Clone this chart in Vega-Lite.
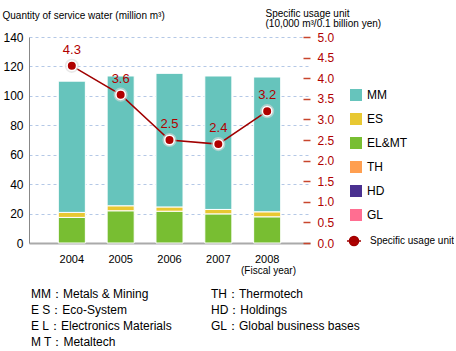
{
  "$schema": "https://vega.github.io/schema/vega-lite/v6.json",
  "padding": {"left": 2, "top": 8, "right": 0, "bottom": 0},
  "config": {
    "font": "Liberation Sans",
    "view": {"stroke": null},
    "concat": {"spacing": 51}
  },
  "bounds": "flush",
  "datasets": {
    "water": [
      {"year": "2004", "segment": "EL&MT", "seq": 1, "value": 17.4},
      {"year": "2004", "segment": "ES", "seq": 2, "value": 3.4},
      {"year": "2004", "segment": "MM", "seq": 3, "value": 89.2},
      {"year": "2005", "segment": "EL&MT", "seq": 1, "value": 21.9},
      {"year": "2005", "segment": "ES", "seq": 2, "value": 3.4},
      {"year": "2005", "segment": "MM", "seq": 3, "value": 88.2},
      {"year": "2006", "segment": "EL&MT", "seq": 1, "value": 21.6},
      {"year": "2006", "segment": "ES", "seq": 2, "value": 2.9},
      {"year": "2006", "segment": "MM", "seq": 3, "value": 90.8},
      {"year": "2007", "segment": "EL&MT", "seq": 1, "value": 19.8},
      {"year": "2007", "segment": "ES", "seq": 2, "value": 3.0},
      {"year": "2007", "segment": "MM", "seq": 3, "value": 90.7},
      {"year": "2008", "segment": "EL&MT", "seq": 1, "value": 17.8},
      {"year": "2008", "segment": "ES", "seq": 2, "value": 3.4},
      {"year": "2008", "segment": "MM", "seq": 3, "value": 91.6}
    ],
    "unit": [
      {"year": "2004", "unit": 4.3, "series": "Specific usage unit"},
      {"year": "2005", "unit": 3.6, "series": "Specific usage unit"},
      {"year": "2006", "unit": 2.5, "series": "Specific usage unit"},
      {"year": "2007", "unit": 2.4, "series": "Specific usage unit"},
      {"year": "2008", "unit": 3.2, "series": "Specific usage unit"}
    ],
    "notes": [
      {"note": "MM：Metals & Mining", "col": 0, "line": 0},
      {"note": "E S：Eco-System", "col": 0, "line": 1},
      {"note": "E L：Electronics Materials", "col": 0, "line": 2},
      {"note": "M T：Metaltech", "col": 0, "line": 3},
      {"note": "TH：Thermotech", "col": 1, "line": 0},
      {"note": "HD：Holdings", "col": 1, "line": 1},
      {"note": "GL：Global business bases", "col": 1, "line": 2}
    ]
  },
  "vconcat": [
    {
      "width": 281,
      "height": 206,
      "layer": [
        {
          "data": {"name": "water"},
          "mark": {"type": "bar", "stroke": "white", "strokeWidth": 1},
          "encoding": {
            "x": {
              "field": "year", "type": "ordinal",
              "scale": {"paddingInner": 0.446, "paddingOuter": 0.6},
              "axis": {
                "title": "(Fiscal year)", "titleFontSize": 10, "titleFontWeight": "normal",
                "titleX": 239, "titleY": 27, "titleBaseline": "middle", "titleAlign": "center",
                "labelAngle": 0, "labelFontSize": 11, "labelColor": "#000", "labelPadding": 10,
                "ticks": false, "domainColor": "#aaaaaa", "domainWidth": 2
              }
            },
            "y": {
              "field": "value", "type": "quantitative", "aggregate": "sum",
              "scale": {"domain": [0, 140], "nice": false},
              "axis": {
                "title": "Quantity of service water (million m³)",
                "titleAngle": 0, "titleAlign": "left", "titleBaseline": "alphabetic",
                "titleX": -27, "titleY": -19, "titleFontSize": 10, "titleFontWeight": "normal",
                "values": [0, 20, 40, 60, 80, 100, 120, 140],
                "labelFontSize": 12, "labelColor": "#000", "labelPadding": 6,
                "ticks": false, "domainColor": "#888888",
                "grid": true, "gridColor": "#b4c8e6", "gridDash": [3, 3]
              }
            },
            "color": {
              "field": "segment", "type": "nominal",
              "scale": {
                "domain": ["MM", "ES", "EL&MT", "TH", "HD", "GL"],
                "range": ["#66c4bc", "#e8c832", "#78be32", "#ff9f50", "#4a3090", "#ff6e91"]
              },
              "legend": {
                "title": null, "orient": "none", "legendX": 321, "legendY": 52,
                "symbolType": "square", "symbolSize": 144, "symbolStrokeWidth": 0,
                "labelFontSize": 12, "labelColor": "#000", "rowPadding": 12, "labelOffset": 5
              }
            },
            "order": {"field": "seq", "type": "quantitative"}
          }
        },
        {
          "data": {"name": "unit"},
          "encoding": {
            "x": {"field": "year", "type": "ordinal"},
            "y": {
              "field": "unit", "type": "quantitative",
              "scale": {"domain": [0, 5], "nice": false},
              "axis": {
                "orient": "right",
                "title": ["Specific usage unit", " (10,000 m³/0.1 billion yen)"],
                "titleAngle": 0, "titleAlign": "left", "titleBaseline": "alphabetic",
                "titleX": -45, "titleY": -21, "titleFontSize": 10, "titleFontWeight": "normal",
                "titleLineHeight": 10,
                "values": [0, 0.5, 1, 1.5, 2, 2.5, 3, 3.5, 4, 4.5, 5], "format": ".1f",
                "labelFontSize": 12, "labelColor": "#b00000", "labelPadding": 14,
                "tickSize": -7, "tickColor": "#c8462d", "tickWidth": 1.5,
                "domain": false, "grid": false
              }
            }
          },
          "layer": [
            {
              "mark": {"type": "line", "strokeWidth": 1.5},
              "encoding": {
                "stroke": {
                  "field": "series", "type": "nominal",
                  "scale": {"range": ["#a00000"]},
                  "legend": {
                    "title": null, "orient": "none", "legendX": 317, "legendY": 196,
                    "symbolType": "M-1,0H1M-0.65,0A0.65,0.65,0,1,0,0.65,0A0.65,0.65,0,1,0,-0.65,0Z",
                    "symbolSize": 196, "symbolFillColor": "#b00000", "symbolStrokeWidth": 1.5,
                    "labelFontSize": 10, "labelColor": "#000", "labelOffset": 8
                  }
                }
              }
            },
            {
              "mark": {"type": "point", "filled": true, "size": 200, "color": "#d8d8d8", "opacity": 0.6}
            },
            {
              "mark": {"type": "point", "filled": true, "size": 90, "fill": "#b00000", "stroke": "white", "strokeWidth": 1.5, "fillOpacity": 1, "strokeOpacity": 1}
            },
            {
              "mark": {"type": "text", "dy": -16, "fontSize": 13, "color": "#b00000", "baseline": "middle"},
              "encoding": {
                "text": {"field": "unit", "type": "quantitative", "format": ".1f"}
              }
            }
          ]
        }
      ],
      "resolve": {"scale": {"y": "independent"}}
    },
    {
      "width": 180,
      "height": 48,
      "data": {"name": "notes"},
      "mark": {"type": "text", "align": "left", "baseline": "middle", "fontSize": 12, "dx": 2, "color": "#000"},
      "encoding": {
        "x": {"field": "col", "type": "quantitative", "scale": {"domain": [0, 1], "nice": false, "zero": false}, "axis": null},
        "y": {"field": "line", "type": "quantitative", "scale": {"domain": [0, 3], "nice": false, "reverse": true}, "axis": null},
        "text": {"field": "note"}
      }
    }
  ]
}
